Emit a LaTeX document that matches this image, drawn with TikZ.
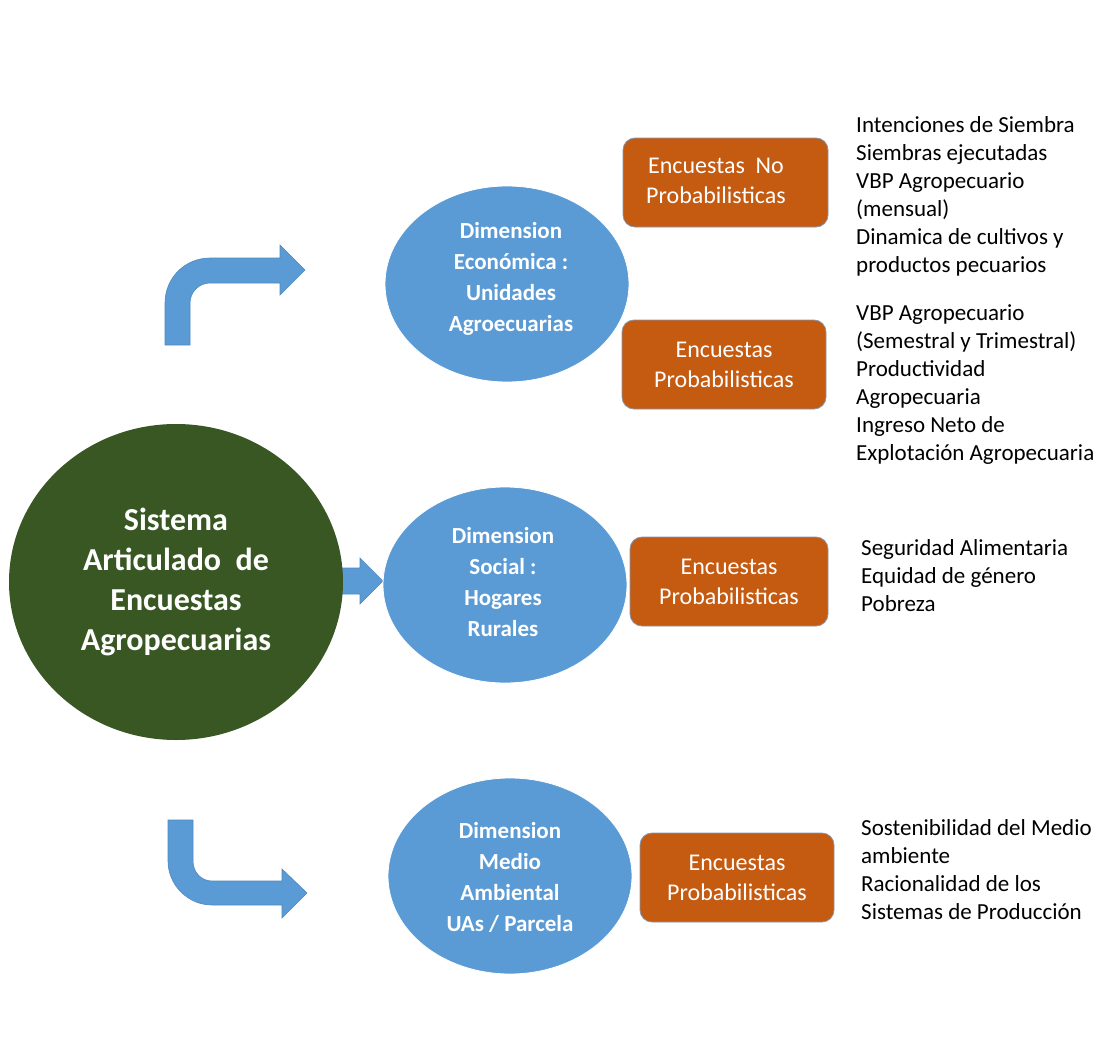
\documentclass[tikz,border=0pt]{standalone}
\usepackage{fontspec}
\setmainfont{Carlito}
\usetikzlibrary{shapes.geometric}
\definecolor{dimblue}{HTML}{5B9BD5}
\definecolor{dimblueedge}{HTML}{4F88BE}
\definecolor{boxorange}{HTML}{C55A11}
\definecolor{boxedge}{HTML}{8496B0}
\definecolor{maingreen}{HTML}{385723}
\tikzset{
  dimnode/.style={ellipse, fill=dimblue, draw=white, line width=0.8pt, inner sep=0pt,
    minimum width=244pt, minimum height=196pt, text=white, align=center,
    font=\fontsize{23}{31}\selectfont\bfseries},
  surveybox/.style={rectangle, rounded corners=12pt, fill=boxorange, draw=boxedge, line width=0.8pt,
    inner sep=0pt, text=white, align=center, font=\fontsize{24}{30}\selectfont},
  listtext/.style={anchor=west, align=left, inner sep=0pt, text=black,
    font=\fontsize{23}{28}\selectfont},
  blockarrow/.style={fill=dimblue, draw=dimblueedge, line width=0.6pt}
}
\begin{document}
\begin{tikzpicture}[x=1pt,y=-1pt]
\useasboundingbox (0,0) rectangle (1111,1057);

% middle block arrow (behind the circle)
\draw[blockarrow] (320,568) -- (360,568) -- (360,558) -- (383,581) -- (360,604) -- (360,594) -- (320,594) -- cycle;

% main circle
\node[ellipse, fill=maingreen, inner sep=0pt, minimum width=334pt, minimum height=316pt,
  text=white, align=center, font=\fontsize{32}{40}\selectfont\bfseries] (main) at (176,582)
  {Sistema\\Articulado\ \ de\\Encuestas\\Agropecuarias};

% bent arrows
\draw[blockarrow] (165,345) -- (165,303) .. controls (165,278) and (185,258) .. (210,258)
  -- (280,258) -- (280,245) -- (305,270) -- (280,295) -- (280,283) -- (210,283)
  .. controls (199,283) and (190,292) .. (190,303) -- (190,345) -- cycle;
\draw[blockarrow] (168,820) -- (168,861) .. controls (168,885) and (188,905) .. (212,905)
  -- (282,905) -- (282,918) -- (307,893) -- (282,869) -- (282,881) -- (212,881)
  .. controls (201,881) and (193,872) .. (193,861) -- (193,820) -- cycle;

% dimension ellipses
\node[dimnode] (econ) at (507,284) {};
\node[text=white, align=center, font=\fontsize{23}{31}\selectfont\bfseries] (econt) at (511,279)
  {Dimension\\Económica :\\Unidades\\Agroecuarias};
\node[dimnode] (social) at (505,585) {};
\node[text=white, align=center, font=\fontsize{23}{31}\selectfont\bfseries] (socialt) at (503,582)
  {Dimension\\Social :\\Hogares\\Rurales};
\node[dimnode] (medio) at (510,876) {};
\node[text=white, align=center, font=\fontsize{23}{31}\selectfont\bfseries] (mediot) at (510,877)
  {Dimension\\Medio\\Ambiental\\UAs / Parcela};

% survey boxes
\node[surveybox, minimum width=205pt, minimum height=89pt] (nop) at (725.5,182.5) {};
\node[text=white, align=center, font=\fontsize{24}{30}\selectfont] (nopt) at (716,181)
  {Encuestas\ \ No\\Probabilisticas};
\node[surveybox, minimum width=204pt, minimum height=89pt] (p1) at (724,364.5)
  {Encuestas\\Probabilisticas};
\node[surveybox, minimum width=198pt, minimum height=89pt] (p2) at (729,581.5)
  {Encuestas\\Probabilisticas};
\node[surveybox, minimum width=194pt, minimum height=89pt] (p3) at (737,877.5)
  {Encuestas\\Probabilisticas};

% indicator lists
\node[listtext] (l1) at (856,196) {Intenciones de Siembra\\Siembras ejecutadas\\VBP Agropecuario\\(mensual)\\Dinamica de cultivos y\\productos pecuarios};
\node[listtext] (l2) at (856,385) {VBP Agropecuario\\(Semestral y Trimestral)\\Productividad\\Agropecuaria\\Ingreso Neto de\\Explotación Agropecuaria};
\node[listtext] (l3) at (861,576) {Seguridad Alimentaria\\Equidad de género\\Pobreza};
\node[listtext] (l4) at (861,870) {Sostenibilidad del Medio\\ambiente\\Racionalidad de los\\Sistemas de Producción};
\end{tikzpicture}
\end{document}
